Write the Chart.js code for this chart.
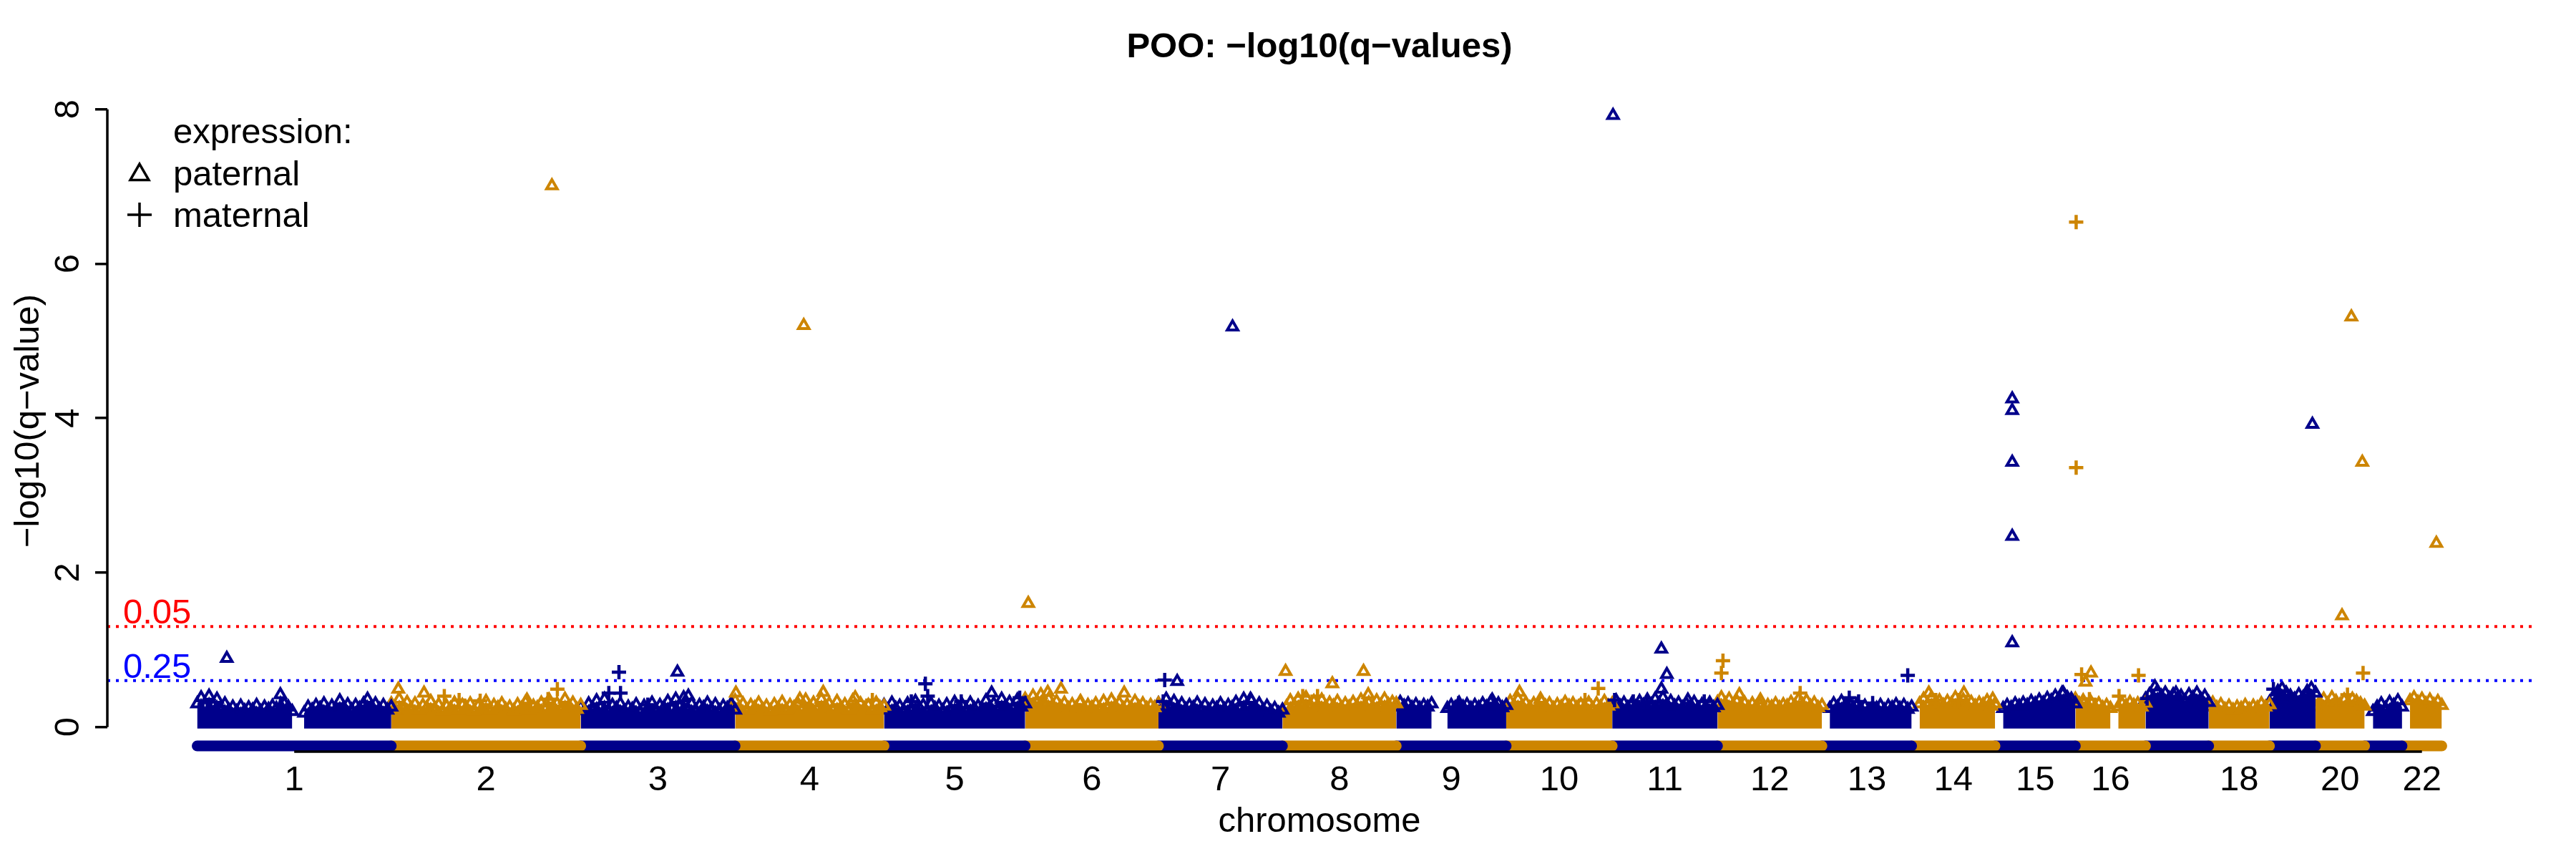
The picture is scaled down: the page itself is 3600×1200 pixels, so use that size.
<!DOCTYPE html>
<html>
<head>
<meta charset="utf-8">
<script src="https://cdn.jsdelivr.net/npm/chart.js@4/dist/chart.umd.min.js"></script>
<style>
html,body{margin:0;padding:0;background:#ffffff;}
#wrap{width:3600px;height:1200px;}
</style>
</head>
<body>
<div id="wrap"><canvas id="c" width="3600" height="1200"></canvas></div>
<script>
// ---------------- data ----------------
const chromosomes = ['1','2','3','4','5','6','7','8','9','10','11','12','13','14','15','16','17','18','19','20','21','22'];
const chrLengthsMb = [249,243,198,191,181,171,159,146,141,136,135,134,115,107,103,90,81,78,59,63,48,51];
const xTickLabels = ['1','2','3','4','5','6','7','8','9','10','11','12','13','14','15','16','','18','','20','','22'];
const yTicks = [0,2,4,6,8];
const qThresholds = [0.05, 0.25];
const thresholdLabels = ['0.05','0.25'];

// paternal expression (triangles): chromosome, position in chromosome (Mb), -log10(q)
const patChr = [1,2,2,2,2,3,3,4,4,4,4,4,5,6,6,6,6,6,7,7,7,8,8,8,8,9,10,10,11,11,11,11,11,12,12,14,14,14,15,15,15,15,15,15,16,16,17,17,19,20,20,20,22];
const patMb  = [38,206,9,42,174,124,138,1,83,88,113,154,138,4,29,46,71,127,24,95,118,4,64,104,110,123,17,44,1,63,70,63,97,28,55,22,67,104,22,22,22,22,22,86,20,13,12,39,55,46,60,34,44];
const patVal = [0.89,7.01,0.49,0.44,0.35,0.71,0.40,0.44,0.36,5.20,0.45,0.38,0.44,1.60,0.45,0.49,0.33,0.44,0.59,5.18,0.36,0.72,0.56,0.72,0.42,0.35,0.45,0.36,7.92,1.01,0.68,0.49,0.35,0.42,0.35,0.44,0.44,0.36,4.25,4.10,3.43,2.47,1.09,0.44,0.70,0.58,0.52,0.44,3.92,5.31,3.43,1.44,2.38];

// maternal expression (crosses)
const matChr = [2,2,2,2,2,3,3,3,3,4,5,5,5,5,5,7,7,8,8,9,10,10,11,11,11,11,12,12,12,13,13,13,13,14,14,16,16,16,16,16,16,17,19,20,20];
const matMb  = [213,68,87,114,201,49,36,51,86,176,35,56,99,53,174,8,6,26,45,80,118,101,3,27,45,118,7,5,106,35,47,65,110,31,60,1,1,8,81,18,56,2,5,61,41];
const matVal = [0.49,0.40,0.35,0.34,0.36,0.71,0.44,0.44,0.29,0.35,0.33,0.40,0.33,0.56,0.38,0.61,0.33,0.40,0.40,0.31,0.50,0.35,0.35,0.33,0.33,0.33,0.86,0.70,0.44,0.38,0.33,0.31,0.67,0.35,0.35,6.54,3.36,0.68,0.67,0.36,0.40,0.37,0.49,0.70,0.42];

// bulk of non-significant genes: upper edge of the dense band, read every ~5 Mb along each chromosome
const bulkChr1  = [0.30,0.38,0.26,0.40,0.28,0.36,0.24,0.30,0.22,0.26,0.20,0.27,0.21,0.25,0.22,0.28,0.20,0.26,0.23,0.27,0.24,0.42,0.30,0.26,0.20,null,null,0.18,0.26,0.22,0.28,0.24,0.30,0.22,0.27,0.23,0.34,0.25,0.29,0.22,0.28,0.24,0.30,0.36,0.26,0.30,0.23,0.28,0.22,0.26];
const bulkChr2  = [0.30,0.22,0.36,0.26,0.32,0.24,0.30,0.22,0.28,0.25,0.33,0.23,0.29,0.21,0.27,0.24,0.31,0.22,0.28,0.25,0.30,0.21,0.27,0.24,0.33,0.22,0.28,0.25,0.30,0.23,0.26,0.21,0.29,0.24,0.32,0.22,0.27,0.25,0.31,0.23,0.35,0.26,0.30,0.24,0.36,0.27,0.31,0.23,0.28];
const bulkChr3  = [0.26,0.21,0.30,0.24,0.34,0.25,0.36,0.22,0.28,0.24,0.30,0.21,0.26,0.23,0.29,0.20,0.27,0.24,0.31,0.22,0.28,0.25,0.33,0.23,0.36,0.26,0.38,0.24,0.30,0.22,0.28,0.25,0.31,0.23,0.29,0.21,0.27,0.24,0.30,0.22];
const bulkChr4  = [0.34,0.24,0.30,0.22,0.28,0.25,0.31,0.23,0.27,0.21,0.29,0.24,0.32,0.22,0.28,0.25,0.30,0.23,0.35,0.26,0.31,0.24,0.36,0.27,0.30,0.23,0.33,0.25,0.29,0.22,0.34,0.26,0.30,0.24,0.28,0.22,0.31,0.25,0.27];
const bulkChr5  = [0.28,0.22,0.31,0.24,0.27,0.21,0.30,0.23,0.33,0.25,0.28,0.22,0.30,0.24,0.27,0.21,0.29,0.23,0.32,0.25,0.28,0.22,0.31,0.24,0.27,0.23,0.34,0.26,0.30,0.24,0.36,0.27,0.32,0.25,0.35,0.26,0.30];
const bulkChr6  = [0.36,0.30,0.40,0.33,0.42,0.30,0.36,0.28,0.33,0.26,0.31,0.24,0.29,0.25,0.32,0.23,0.28,0.25,0.30,0.24,0.33,0.26,0.35,0.27,0.31,0.24,0.29,0.25,0.33,0.26,0.30,0.24,0.28,0.25,0.30];
const bulkChr7  = [0.30,0.24,0.36,0.27,0.33,0.25,0.30,0.23,0.28,0.25,0.31,0.23,0.29,0.22,0.27,0.24,0.30,0.23,0.28,0.25,0.32,0.24,0.36,0.27,0.34,0.25,0.30,0.22,0.27,0.20,0.24,0.18,0.22];
const bulkChr8  = [0.20,0.26,0.34,0.28,0.36,0.30,0.38,0.27,0.33,0.28,0.35,0.26,0.31,0.27,0.33,0.25,0.30,0.26,0.32,0.27,0.35,0.28,0.31,0.26,0.34,0.28,0.36,0.29,0.32,0.30];
const bulkChr9  = [0.26,0.32,0.27,0.30,0.25,0.29,0.24,0.28,0.26,0.30,null,null,null,0.24,0.28,0.25,0.31,0.26,0.29,0.24,0.28,0.25,0.30,0.26,0.32,0.27,0.30,0.25,0.28];
const bulkChr10 = [0.26,0.33,0.28,0.36,0.27,0.31,0.25,0.30,0.26,0.33,0.27,0.30,0.24,0.29,0.26,0.32,0.27,0.30,0.25,0.29,0.26,0.31,0.24,0.30,0.26,0.33,0.27,0.30];
const bulkChr11 = [0.28,0.34,0.27,0.31,0.25,0.30,0.26,0.33,0.28,0.35,0.29,0.36,0.30,0.38,0.29,0.33,0.27,0.31,0.25,0.30,0.26,0.32,0.24,0.29,0.26,0.31,0.25,0.28];
const bulkChr12 = [0.32,0.38,0.30,0.36,0.28,0.33,0.27,0.31,0.25,0.30,0.26,0.29,0.24,0.28,0.26,0.30,0.25,0.29,0.27,0.32,0.28,0.36,0.29,0.34,0.27,0.31,0.25,0.28];
const bulkChr13 = [null,null,0.24,0.30,0.26,0.33,0.28,0.31,0.25,0.29,0.23,0.27,0.22,0.26,0.24,0.28,0.22,0.27,0.25,0.29,0.24,0.28,0.23,0.26];
const bulkChr14 = [null,null,0.30,0.36,0.29,0.38,0.31,0.34,0.28,0.33,0.30,0.38,0.32,0.35,0.28,0.32,0.27,0.31,0.29,0.34,0.27,0.30];
const bulkChr15 = [null,null,0.24,0.28,0.25,0.30,0.27,0.31,0.28,0.33,0.30,0.35,0.31,0.37,0.34,0.40,0.36,0.44,0.38,0.36,0.30];
const bulkChr16 = [0.36,0.30,0.34,0.28,0.32,0.26,0.30,0.25,0.28,0.24,null,0.26,0.30,0.27,0.32,0.28,0.30,0.26,0.31];
const bulkChr17 = [0.36,0.42,0.38,0.46,0.40,0.44,0.37,0.42,0.36,0.40,0.34,0.42,0.38,0.44,0.36,0.40,0.32];
const bulkChr18 = [0.26,0.31,0.25,0.29,0.23,0.27,0.22,0.26,0.24,0.28,0.23,0.27,0.25,0.30,0.26,0.29];
const bulkChr19 = [0.32,0.40,0.46,0.50,0.44,0.40,0.36,0.42,0.38,0.46,0.50,0.44];
const bulkChr20 = [0.26,0.32,0.36,0.30,0.38,0.33,0.29,0.35,0.31,0.36,0.33,0.30,0.27];
const bulkChr21 = [null,null,0.20,0.26,0.30,0.24,0.32,0.28,0.34,0.26];
const bulkChr22 = [null,null,0.34,0.38,0.32,0.36,0.30,0.35,0.29,0.33,0.28];
const bulkByChr = [bulkChr1,bulkChr2,bulkChr3,bulkChr4,bulkChr5,bulkChr6,bulkChr7,bulkChr8,bulkChr9,bulkChr10,bulkChr11,bulkChr12,bulkChr13,bulkChr14,bulkChr15,bulkChr16,bulkChr17,bulkChr18,bulkChr19,bulkChr20,bulkChr21,bulkChr22];

// ---------------- styles ----------------
const BLUE = '#00008B', ORANGE = '#CD8500';
const thresholdColors = ['#FF0000', '#0000FF'];
const FONT = "'Liberation Sans', Arial, Helvetica, sans-serif";
const chromBarLevel = -0.244;   // y level of the chromosome band under the points
const X_MIN = -115.2, X_MAX = 2994.2, Y_MIN = -0.318, Y_MAX = 8.247;

// ---------------- derived ----------------
const chrStart = [];
let acc = 0;
chrLengthsMb.forEach(l => { chrStart.push(acc); acc += l; });
const chrCenter = chrLengthsMb.map((l, i) => chrStart[i] + l / 2);
const chrColor = c => (c % 2 === 1 ? BLUE : ORANGE);

const datasets = [];

// chromosome bands
chrLengthsMb.forEach((l, i) => {
  datasets.push({
    type: 'line', order: 4,
    data: [{x: chrStart[i], y: chromBarLevel}, {x: chrStart[i] + l, y: chromBarLevel}],
    borderColor: chrColor(i + 1), borderWidth: 15, borderCapStyle: 'round',
    pointRadius: 0, fill: false
  });
});

// dense bulk of points per chromosome
bulkByChr.forEach((vals, i) => {
  const n = vals.length, l = chrLengthsMb[i];
  const col = chrColor(i + 1);
  datasets.push({
    type: 'line', order: 3,
    data: vals.map((v, j) => ({x: chrStart[i] + j * l / (n - 1), y: v})),
    borderWidth: 0, borderColor: col, backgroundColor: col,
    fill: {value: -0.02}, spanGaps: false, tension: 0,
    pointStyle: 'triangle', pointRadius: 8.5, pointBorderWidth: 4,
    pointBorderColor: col, pointBackgroundColor: 'rgba(0,0,0,0)'
  });
});

// thresholds
qThresholds.forEach((q, i) => {
  const lv = -Math.log10(q);
  datasets.push({
    type: 'line', order: 1,
    data: [{x: X_MIN, y: lv}, {x: X_MAX, y: lv}],
    borderColor: thresholdColors[i], borderWidth: 4, borderDash: [4, 8],
    pointRadius: 0, fill: false
  });
});

// paternal / maternal
datasets.push({
  type: 'scatter', order: 0, label: 'paternal',
  data: patChr.map((c, k) => ({x: chrStart[c - 1] + patMb[k], y: patVal[k]})),
  pointStyle: 'triangle', pointRadius: 8.5, pointBorderWidth: 4,
  pointBorderColor: patChr.map(chrColor), pointBackgroundColor: 'rgba(0,0,0,0)'
});
datasets.push({
  type: 'scatter', order: 0, label: 'maternal',
  data: matChr.map((c, k) => ({x: chrStart[c - 1] + matMb[k], y: matVal[k]})),
  pointStyle: 'cross', pointRadius: 10, pointBorderWidth: 4.5,
  pointBorderColor: matChr.map(chrColor), pointBackgroundColor: 'rgba(0,0,0,0)'
});

// ---------------- decorations ----------------
const decor = {
  id: 'decor',
  afterDraw(chart) {
    const {ctx, chartArea: a, scales: {x, y}} = chart;
    ctx.save();
    ctx.strokeStyle = '#000'; ctx.lineWidth = 3.5; ctx.lineCap = 'butt';
    // y axis line (only across tick range)
    ctx.beginPath();
    ctx.moveTo(a.left, y.getPixelForValue(yTicks[0]));
    ctx.lineTo(a.left, y.getPixelForValue(yTicks[yTicks.length - 1]));
    ctx.stroke();
    // x axis line (first to last chromosome centre)
    ctx.beginPath();
    ctx.moveTo(x.getPixelForValue(chrCenter[0]), a.bottom);
    ctx.lineTo(x.getPixelForValue(chrCenter[chrCenter.length - 1]), a.bottom);
    ctx.stroke();

    // title
    ctx.fillStyle = '#000';
    ctx.font = 'bold 49px ' + FONT;
    ctx.textAlign = 'center'; ctx.textBaseline = 'alphabetic';
    ctx.fillText('POO: \u2212log10(q\u2212values)', (a.left + a.right) / 2, 80);

    // x title
    ctx.font = '49px ' + FONT;
    ctx.fillText('chromosome', (a.left + a.right) / 2, 1162);

    // y title
    ctx.save();
    ctx.translate(40, (a.top + a.bottom) / 2);
    ctx.rotate(-Math.PI / 2);
    ctx.textBaseline = 'middle';
    ctx.fillText('\u2212log10(q\u2212value)', 0, 0);
    ctx.restore();

    // threshold labels
    ctx.textAlign = 'left';
    qThresholds.forEach((q, i) => {
      ctx.fillStyle = thresholdColors[i];
      ctx.fillText(thresholdLabels[i], a.left + 22, y.getPixelForValue(-Math.log10(q)) - 4);
    });

    // legend
    ctx.fillStyle = '#000';
    ctx.fillText('expression:', a.left + 92, 200);
    ctx.fillText('paternal', a.left + 92, 259);
    ctx.fillText('maternal', a.left + 92, 317);
    ctx.strokeStyle = '#000'; ctx.fillStyle = 'rgba(0,0,0,0)';
    Chart.helpers.drawPoint(ctx, {pointStyle: 'triangle', radius: 15, borderWidth: 3, rotation: 0}, a.left + 45, 244);
    Chart.helpers.drawPoint(ctx, {pointStyle: 'cross', radius: 17, borderWidth: 3, rotation: 0}, a.left + 45, 300);
    ctx.restore();
  }
};

new Chart(document.getElementById('c'), {
  data: {datasets},
  options: {
    responsive: false, animation: false, devicePixelRatio: 1,
    layout: {padding: {left: 0, right: 62, top: 126, bottom: 0}},
    plugins: {legend: {display: false}, tooltip: {enabled: false}, title: {display: false}},
    scales: {
      x: {
        type: 'linear', position: 'bottom', min: X_MIN, max: X_MAX,
        afterBuildTicks: s => { s.ticks = chrCenter.map(v => ({value: v})); },
        afterFit: s => { s.height = 150; },
        ticks: {autoSkip: false, minRotation: 0, maxRotation: 0, padding: 11.5, color: '#000',
                font: {size: 49, family: FONT}, callback: (v, i) => xTickLabels[i]},
        grid: {display: false, drawTicks: false, drawOnChartArea: false},
        border: {display: false}
      },
      y: {
        type: 'linear', position: 'left', min: Y_MIN, max: Y_MAX,
        afterBuildTicks: s => { s.ticks = yTicks.map(v => ({value: v})); },
        afterFit: s => { s.width = 150; },
        ticks: {autoSkip: false, minRotation: 90, maxRotation: 90, crossAlign: 'center', padding: 22.4,
                color: '#000', font: {size: 49, family: FONT}, callback: v => String(v)},
        grid: {display: true, drawOnChartArea: false, drawTicks: true, tickLength: 17, lineWidth: 3.5, color: '#000'},
        border: {display: false}
      }
    }
  },
  plugins: [decor]
});
</script>
</body>
</html>
